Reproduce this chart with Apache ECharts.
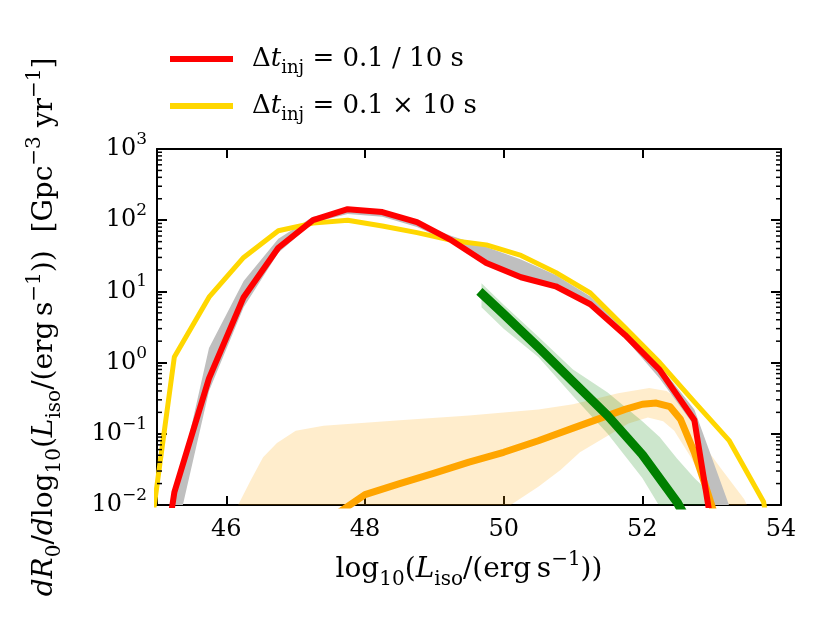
<!DOCTYPE html>
<html><head><meta charset="utf-8">
<script src="https://cdn.jsdelivr.net/npm/echarts/dist/echarts.min.js"></script>
<style>html,body{margin:0;padding:0;background:#fff}#c{width:830px;height:623px}</style>
</head><body><div id="c"></div><script>
// ---------- data ----------
const xMain = [44.75,45.25,45.75,46.25,46.75,47.25,47.75,48.25,48.75,49.25,49.75,50.25,50.75,51.25,51.75,52.25,52.75,53.25];
const redVals = [1e-5,0.015,0.6,8.3,41,100,143,130,94,52,25,15.8,11.8,6.6,2.45,0.79,0.156,0.00016];
const grayLow = [1e-6,0.003,0.4,6,35,92,122,112,80,48,25,17,12.5,7,2.2,0.6,0.13,0.0004];
const grayHigh = [1e-6,0.011,1.6,14,55,112,140,128,92,60,42,28,17,8.5,2.9,0.9,0.22,0.01];

const xYellow = [44.75,45.25,45.75,46.25,46.75,47.25,47.75,48.25,48.75,49.25,49.75,50.25,50.75,51.25,51.75,52.25,52.75,53.25,53.75,54.25];
const yellowVals = [0.0003,1.2,8.3,30,71,91,100,83,67,52,45,32,18.5,9.5,3.1,1.0,0.28,0.081,0.011,1e-5];

const xGreen = [49.65,50.0,50.5,51.0,51.5,52.0,52.5,52.75];
const greenVals = [10,4.8,1.64,0.54,0.18,0.051,0.011,0.004];
const xGreenBand = [49.68,50.0,50.5,51.0,51.5,52.0,52.25,52.5,52.75,53.0,53.25];
const greenHigh = [13,6.5,2.3,0.8,0.38,0.15,0.09,0.045,0.024,0.014,0.007];
const greenLow = [6,3.0,1.2,0.34,0.1,0.024,0.0095,0.004,0.0015,0.0005,0.0002];

const xOrange = [47.5,48.0,48.5,49.0,49.5,50.0,50.5,51.0,51.5,51.75,52.0,52.2,52.4,52.55,52.75,52.9,53.05];
const orangeVals = [0.0065,0.014,0.02,0.028,0.04,0.055,0.08,0.12,0.18,0.22,0.26,0.27,0.24,0.16,0.055,0.02,0.007];
const xOrangeUp = [46.0,46.17,46.35,46.53,46.73,47.0,47.4,48.5,49.5,50.5,51.0,51.65,52.1,52.35,52.6,52.8,53.14,53.47,53.7];
const orangeHigh = [0.002,0.01,0.022,0.047,0.074,0.11,0.13,0.155,0.18,0.22,0.26,0.37,0.44,0.40,0.27,0.09,0.032,0.012,0.004];
const xOrangeLow = [46.0,49.9,50.1,50.5,50.82,51.1,51.55,51.8,52.08,52.3,52.46,52.7,52.95,53.1,53.7];
const orangeLow = [0.0001,0.005,0.01,0.018,0.031,0.055,0.10,0.14,0.17,0.15,0.11,0.047,0.016,0.007,0.0001];

const xTickValues = [46,48,50,52,54];
const legendLabels = {
  red: '{sp| }Δ{i|t}{sub|inj} = 0.1 / 10 s',
  yellow: '{sp| }Δ{i|t}{sub|inj} = 0.1 × 10 s'
};
const xTitle = 'log{sub|10}({i|L}{sub|iso}/(erg\u2009s{sup|\u22121}))';
const yTitle = '{i|dR}{sub|0}/{i|d}log{sub|10}({i|L}{sub|iso}/(erg\u2009s{sup|\u22121}))  [Gpc{sup|\u22123} yr{sup|\u22121}]';

// ---------- helpers ----------
const FONT = 'DejaVu Serif';
const minorVals = [];
for (let e = -2; e < 3; e++) for (let m = 2; m <= 9; m++) minorVals.push(m * Math.pow(10, e));

function richSet(fs, lh, subFs, subLh, supLh, spW) {
  return {
    n: {fontFamily: FONT, fontSize: fs, lineHeight: lh, color: '#000'},
    i: {fontFamily: FONT, fontStyle: 'italic', fontSize: fs, lineHeight: lh, color: '#000'},
    sub: {fontFamily: FONT, fontSize: subFs, lineHeight: subLh, verticalAlign: 'bottom', color: '#000'},
    sup: {fontFamily: FONT, fontSize: subFs, lineHeight: supLh, verticalAlign: 'top', color: '#000'},
    sp: {width: spW || 0, fontFamily: FONT, fontSize: fs, lineHeight: lh}
  };
}
function lineSeries(name, xs, ys, color, width) {
  return {type: 'line', name, data: xs.map((x, i) => [x, ys[i]]), symbol: 'none', showSymbol: false,
    lineStyle: {color, width, join: 'round', cap: 'butt'}, itemStyle: {color}, clip: true, silent: true};
}
function bandSeries(name, xu, yu, xl, yl, color) {
  const pts = xu.map((x, i) => [x, yu[i]]).concat(xl.map((x, i) => [x, yl[i]]).reverse());
  return {type: 'custom', name, coordinateSystem: 'cartesian2d', clip: true, silent: true,
    data: pts, encode: {x: 0, y: 1},
    renderItem(params, api) {
      if (params.dataIndex !== 0) return null;
      const cs = params.coordSys;
      return {type: 'polygon', shape: {points: pts.map(p => api.coord(p))}, style: {fill: color},
        clipPath: {type: 'rect', shape: {x: cs.x, y: cs.y, width: cs.width, height: cs.height}}};
    }};
}
const minorTickSeries = {
  type: 'custom', name: 'minorTicks', coordinateSystem: 'cartesian2d', silent: true, z: 10,
  data: minorVals.map(v => [45, v]), encode: {x: 0, y: 1},
  renderItem(params, api) {
    const v = api.value(1);
    const l = api.coord([45, v]), r = api.coord([54, v]);
    const st = {stroke: '#000', lineWidth: 1.5};
    return {type: 'group', children: [
      {type: 'line', shape: {x1: l[0], y1: l[1], x2: l[0] + 5, y2: l[1]}, style: st},
      {type: 'line', shape: {x1: r[0] - 5, y1: r[1], x2: r[0], y2: r[1]}, style: st}
    ]};
  }
};

const axLine = {show: true, onZero: false, lineStyle: {color: '#000', width: 2}};
const xBase = {type: 'value', min: 45, max: 54, splitLine: {show: false}, axisLine: axLine,
  axisTick: {show: true, inside: true, length: 9, lineStyle: {color: '#000', width: 2}, customValues: xTickValues}};
const yBase = {type: 'log', logBase: 10, min: 0.01, max: 1000, splitLine: {show: false}, axisLine: axLine,
  axisTick: {show: true, inside: true, length: 10, lineStyle: {color: '#000', width: 2}}};

const chart = echarts.init(document.getElementById('c'), null, {renderer: 'canvas'});
chart.setOption({
  animation: false,
  backgroundColor: '#fff',
  grid: {left: 157, right: 49, top: 149, bottom: 118, containLabel: false},
  legend: {
    orient: 'vertical', left: 165, top: 36, itemWidth: 63, itemHeight: 6, itemGap: 11, icon: 'rect',
    data: ['red', 'yellow'], selectedMode: false,
    formatter: n => legendLabels[n],
    textStyle: {fontFamily: FONT, fontSize: 26, lineHeight: 36, color: '#000', rich: richSet(26, 36, 18, 24, 18, 14)}
  },
  xAxis: [
    Object.assign({}, xBase, {position: 'bottom',
      axisLabel: {customValues: xTickValues, margin: 13, fontFamily: FONT, fontSize: 24, color: '#000'},
      name: xTitle, nameLocation: 'middle', nameGap: 45,
      nameTextStyle: {fontFamily: FONT, fontSize: 28, lineHeight: 40, color: '#000', rich: richSet(28, 40, 20, 26, 20)}}),
    Object.assign({}, xBase, {position: 'top', axisLabel: {show: false}})
  ],
  yAxis: [
    Object.assign({}, yBase, {position: 'left',
      axisLabel: {margin: 10, fontFamily: FONT, fontSize: 24, lineHeight: 36, color: '#000',
        formatter: v => { const e = Math.round(Math.log10(v)); return '10{sup|' + (e < 0 ? '\u2212' + (-e) : String(e)) + '}'; },
        rich: {sup: {fontFamily: FONT, fontSize: 17, lineHeight: 17, verticalAlign: 'top', color: '#000'}}},
      name: yTitle, nameLocation: 'middle', nameGap: 92, nameRotate: 90,
      nameTextStyle: {fontFamily: FONT, fontSize: 28, lineHeight: 40, color: '#000', rich: richSet(28, 40, 20, 26, 20)}}),
    Object.assign({}, yBase, {position: 'right', axisLabel: {show: false}})
  ],
  series: [
    bandSeries('orangeBand', xOrangeUp, orangeHigh, xOrangeLow, orangeLow, 'rgba(255,165,0,0.2)'),
    lineSeries('orange', xOrange, orangeVals, '#ffa500', 7),
    bandSeries('greenBand', xGreenBand, greenHigh, xGreenBand, greenLow, 'rgba(0,128,0,0.2)'),
    lineSeries('green', xGreen, greenVals, '#008000', 9),
    bandSeries('grayBand', xMain, grayHigh, xMain, grayLow, '#bfbfbf'),
    lineSeries('yellow', xYellow, yellowVals, '#ffd700', 5),
    lineSeries('red', xMain, redVals, '#ff0000', 6),
    minorTickSeries
  ]
});
</script></body></html>
